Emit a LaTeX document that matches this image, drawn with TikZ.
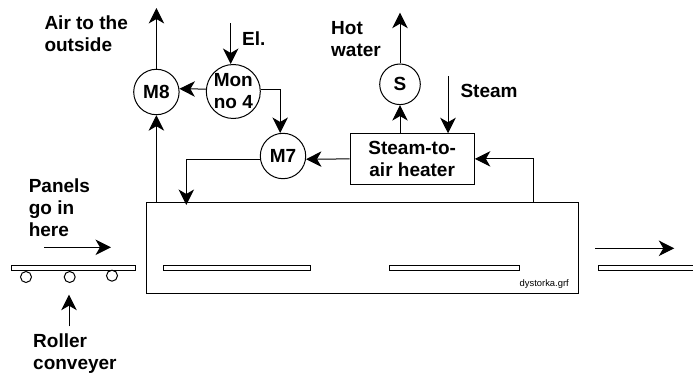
\documentclass[tikz,border=0pt]{standalone}
\usepackage{fontspec}
\setmainfont{Liberation Sans}
\usepackage{tikz}
\usetikzlibrary{arrows.meta}
\begin{document}
\begin{tikzpicture}[x=1pt,y=-1pt,line width=1pt,
    flow/.style={draw,-{Stealth[length=15.5pt,width=15.5pt,inset=4.5pt]}},
    fan/.style={draw,circle,inner sep=0pt,align=center,font=\fontsize{19}{22}\selectfont\bfseries},
    slat/.style={draw,rectangle,inner sep=0pt,minimum height=5.4pt},
    roller/.style={draw,circle,inner sep=0pt,minimum size=11pt},
    lbl/.style={anchor=north west,inner sep=0pt,align=left,font=\fontsize{19}{22}\selectfont\bfseries}]
    \useasboundingbox (0,0) rectangle (693,374);
    \node[fan,minimum size=45.4pt] (m8) at (156.4,92) {M8};
    \node[fan,minimum size=54pt] (mon) at (233.3,91.5) {Mon\\no 4};
    \node[fan,minimum size=45.4pt] (m7) at (283,156) {M7};
    \node[fan,minimum size=40.6pt] (s) at (400,84.3) {S};
    \node[draw,rectangle,inner sep=0pt,minimum width=124.3pt,minimum height=50.3pt,align=center,font=\fontsize{19}{22}\selectfont\bfseries] (heater) at (412.2,158.9) {Steam-to-\\air heater};
    \node[draw,rectangle,inner sep=0pt,minimum width=432pt,minimum height=90.7pt] (oven) at (362.7,248.3) {};
    \node[slat,minimum width=124.7pt] (conveyor) at (73.6,268) {};
    \node[slat,minimum width=147pt] (shelfa) at (236.8,268) {};
    \node[slat,minimum width=129.7pt] (shelfb) at (454.2,268) {};
    \node[roller] (rollera) at (26,277) {};
    \node[roller] (rollerb) at (69.7,277) {};
    \node[roller] (rollerc) at (112,275.7) {};
    \coordinate (airout) at (156.4,8);
    \coordinate (elin) at (230.7,23.3);
    \coordinate (waterout) at (400,12.7);
    \coordinate (steamin) at (448,76.3);
    \coordinate (ovenin) at (186.3,205);
    \coordinate (ovenout) at (533.7,203);
    \coordinate (panelsa) at (44.3,247.3);
    \coordinate (panelsb) at (111,247.3);
    \coordinate (rollertail) at (69,326.3);
    \coordinate (rollerhead) at (69,294.7);
    \coordinate (exita) at (595,248.3);
    \coordinate (exitb) at (674.3,248.3);
    \draw[flow] (m8) -- (airout);
    \draw[flow] (m8 |- oven.north) -- (m8);
    \draw[flow] (elin) -- (elin |- mon.north);
    \draw[flow] (mon.175) -- (m8.8);
    \draw[flow] (mon.5) -| (m7.97);
    \draw[flow] (m7.188) -| (ovenin);
    \draw[flow] (heater.west) -- (m7.-8);
    \draw[flow] (s.south |- heater.north) -- (s);
    \draw[flow] (s) -- (waterout);
    \draw[flow] (steamin) -- (steamin |- heater.north);
    \draw[flow] (ovenout) |- (heater.east);
    \draw[flow] (panelsa) -- (panelsb);
    \draw[flow] (rollertail) -- (rollerhead);
    \draw[flow] (exita) -- (exitb);
    \draw (693,265.3) -- (598.3,265.3) -- (598.3,270.7) -- (693,270.7);
    \node[lbl] (airlbl) at (44,15) {Air to the\\outside};
    \node[lbl] (ellbl) at (241.7,31) {El.};
    \node[lbl] (waterlbl) at (330.7,20.5) {Hot\\water};
    \node[lbl] (steamlbl) at (460,84) {Steam};
    \node[lbl] (panelslbl) at (28.3,178.5) {Panels\\go in\\here};
    \node[lbl] (rollerlbl) at (32.7,333) {Roller\\conveyer};
    \node[anchor=base east,inner sep=0pt,font=\fontsize{9.4}{11}\selectfont] (filelbl) at (569.3,286.7) {dystorka.grf};
\end{tikzpicture}
\end{document}
